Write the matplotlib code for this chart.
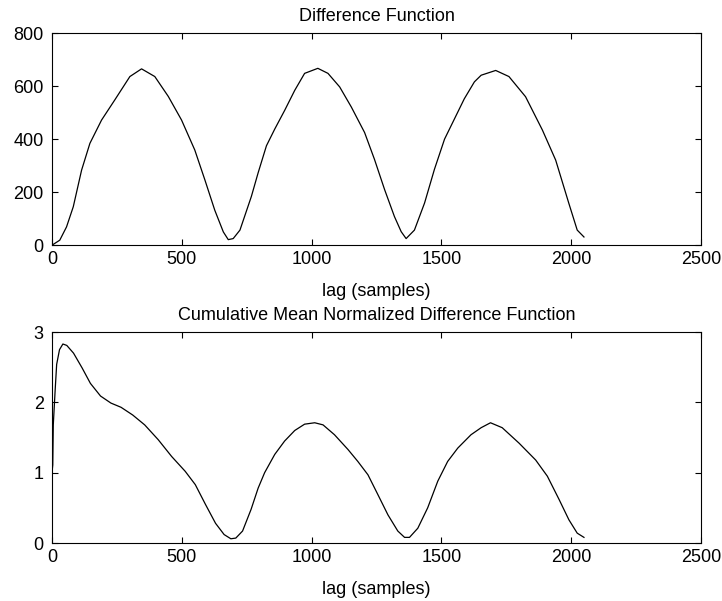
import matplotlib.pyplot as plt

plt.rcParams['font.family'] = ['Liberation Sans', 'DejaVu Sans']
plt.rcParams['font.size'] = 13

# difference function d(tau)
diff_lag = [0, 30, 56, 82, 114, 146, 191, 242, 300, 345, 396, 448, 499, 550, 589,
            627, 660, 679, 698, 724, 768, 794, 826, 858, 896, 935, 973, 1024, 1063,
            1108, 1153, 1204, 1242, 1281, 1319, 1345, 1364, 1396, 1435, 1473, 1512,
            1550, 1588, 1627, 1653, 1709, 1760, 1824, 1889, 1940, 1991, 2023, 2049]
diff_val = [0, 19, 69, 145, 283, 384, 472, 548, 636, 665, 636, 561, 472, 359, 246,
            132, 50, 21, 25, 57, 184, 273, 375, 438, 508, 584, 648, 667, 648,
            597, 521, 425, 324, 210, 108, 51, 25, 57, 159, 286, 400,
            476, 552, 616, 641, 659, 636, 560, 434, 321, 157, 57, 31]

# cumulative mean normalized difference d'(tau)
cmnd_lag = [0, 3, 5, 12, 18, 29, 42, 57, 83, 116, 148, 187, 227, 266, 311, 357,
            409, 461, 513, 552, 591, 630, 663, 689, 708, 734, 767, 794, 819, 858,
            896, 935, 973, 1012, 1044, 1088, 1140, 1178, 1217, 1255, 1294, 1332,
            1358, 1377, 1409, 1447, 1486, 1524, 1563, 1614, 1653, 1689, 1734, 1799,
            1863, 1908, 1953, 1991, 2023, 2049]
cmnd_val = [1.0, 1.11, 1.68, 2.16, 2.54, 2.75, 2.83, 2.81, 2.70, 2.49, 2.27, 2.09,
            1.99, 1.93, 1.82, 1.68, 1.47, 1.23, 1.02, 0.83, 0.55, 0.28, 0.12, 0.06,
            0.07, 0.17, 0.48, 0.78, 1.00, 1.26, 1.45, 1.60, 1.69, 1.71, 1.68, 1.54,
            1.33, 1.16, 0.97, 0.69, 0.40, 0.17, 0.08, 0.08, 0.21, 0.50, 0.88, 1.16,
            1.35, 1.54, 1.64, 1.71, 1.64, 1.42, 1.18, 0.95, 0.62, 0.33, 0.14, 0.08]

fig = plt.figure(figsize=(7.22, 6.01), dpi=100)
ax1 = fig.add_axes([0.072, 0.592, 0.899, 0.353])
ax2 = fig.add_axes([0.072, 0.0965, 0.899, 0.351])


def style(ax, ylim, yticks, title):
    ax.set_xlim(0, 2500)
    ax.set_ylim(*ylim)
    ax.set_xticks([0, 500, 1000, 1500, 2000, 2500])
    ax.set_yticks(yticks)
    ax.tick_params(direction='in', length=4, width=0.8, top=True, right=True,
                   labelsize=13)
    ax.tick_params(axis='x', pad=4.5)
    ax.tick_params(axis='y', pad=6)
    for s in ax.spines.values():
        s.set_linewidth(0.8)
    ax.set_title(title, fontsize=13, pad=8.5)
    ax.set_xlabel('lag (samples)', fontsize=13, labelpad=10.5)


ax1.plot(diff_lag, diff_val, color='black', linewidth=0.9)
style(ax1, (0, 800), [0, 200, 400, 600, 800], 'Difference Function')

ax2.plot(cmnd_lag, cmnd_val, color='black', linewidth=0.9)
style(ax2, (0, 3), [0, 1, 2, 3], 'Cumulative Mean Normalized Difference Function')

fig.savefig('out.png', dpi=100)
